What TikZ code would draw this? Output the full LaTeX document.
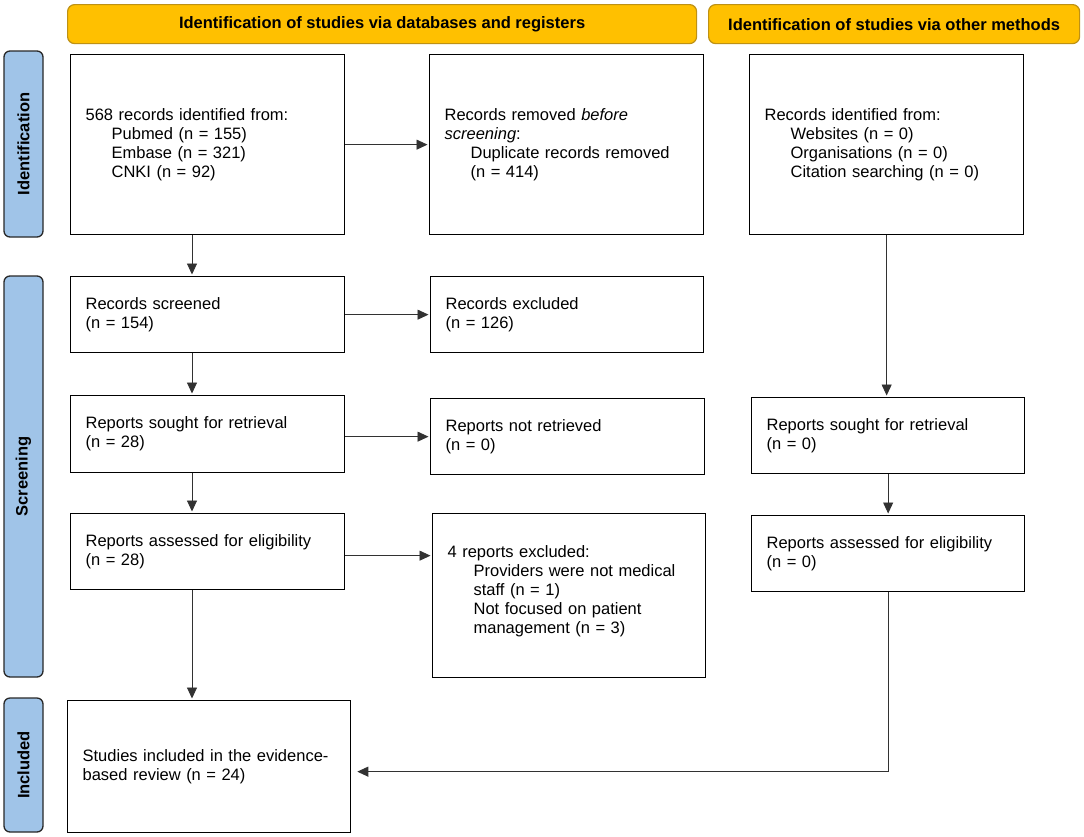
\documentclass[tikz,border=0pt]{standalone}
\usepackage{fontspec}
\setmainfont{Liberation Sans}
\usetikzlibrary{arrows.meta,positioning}
\definecolor{hdrfill}{RGB}{255,192,0}
\definecolor{hdrline}{RGB}{190,145,20}
\definecolor{sidefill}{RGB}{160,196,232}
\definecolor{sideline}{RGB}{40,40,40}
\definecolor{arrline}{RGB}{50,50,50}
\newcommand\mybody{\fontsize{16.5}{19}\selectfont}
\newcommand\myhead{\fontsize{16.5}{19}\selectfont\bfseries}
\newcommand\ind{\hspace*{26pt}}
\begin{document}
\begin{tikzpicture}[x=1pt,y=-1pt,
  box/.style={draw=black, line width=1.3pt, fill=white, rectangle, anchor=north west,
    inner xsep=15pt, inner ysep=0pt, align=left, font=\mybody},
  hdr/.style={draw=hdrline, line width=1.2pt, fill=hdrfill, rounded corners=7pt,
    anchor=north west, inner sep=0pt, align=center, font=\myhead},
  side/.style={draw=sideline, line width=1.3pt, fill=sidefill, rounded corners=6pt,
    inner sep=0pt, font=\myhead, rotate=90},
  arr/.style={draw=arrline, line width=0.9pt, -{Triangle[length=11pt,width=10pt]}, shorten >=1.5pt},
  ln/.style={draw=arrline, line width=0.9pt}]
\useasboundingbox (0,0) rectangle (1084,836);
\fill[white] (0,0) rectangle (1084,836);

% headers
\node[hdr, minimum width=629pt, minimum height=39pt] (H1) at (67,4) {Identification of studies via databases and registers};
\node[hdr, minimum width=371pt, minimum height=39pt] (H2) at (708,4) {Identification of studies via other methods};

% side labels
\node[side, minimum width=186pt, minimum height=39pt] (S1) at (23.5,144) {Identification};
\node[side, minimum width=401pt, minimum height=39pt] (S2) at (23.5,476.5) {Screening};
\node[side, minimum width=134pt, minimum height=39pt] (S3) at (23.5,765) {Included};

% left column
\node[box, text width=244pt, minimum height=180pt] (A) at (70,54)
  {568 records identified from:\\ \ind Pubmed (n = 155)\\ \ind Embase (n = 321)\\ \ind CNKI (n = 92)};
\node[box, text width=244pt, minimum height=76pt] (Scr) at (70,276)
  {Records screened\\(n = 154)};
\node[box, text width=244pt, minimum height=77pt] (Sou) at (70,395)
  {Reports sought for retrieval\\(n = 28)};
\node[box, text width=244pt, minimum height=76pt] (Ass) at (70,513)
  {Reports assessed for eligibility\\(n = 28)};
\node[box, text width=253pt, minimum height=132pt] (Inc) at (67,700)
  {Studies included in the evidence-\\based review (n = 24)};

% middle column
\node[box, text width=244pt, minimum height=180pt] (B) at (429,54)
  {Records removed \textit{before}\\\textit{screening}:\\ \ind Duplicate records removed\\ \ind (n = 414)};
\node[box, text width=243pt, minimum height=76pt] (Exc) at (430,276)
  {Records excluded\\(n = 126)};
\node[box, text width=244pt, minimum height=76pt] (NRe) at (430,398)
  {Reports not retrieved\\(n = 0)};
\node[box, text width=243pt, minimum height=164pt] (Ex4) at (432,513)
  {4 reports excluded:\\ \ind Providers were not medical\\ \ind staff (n = 1)\\ \ind Not focused on patient\\ \ind management (n = 3)\\[-7pt]\mbox{}};

% right column
\node[box, text width=244pt, minimum height=180pt] (C) at (749,54)
  {Records identified from:\\ \ind Websites (n = 0)\\ \ind Organisations (n = 0)\\ \ind Citation searching (n = 0)};
\node[box, text width=243pt, minimum height=76pt] (SouO) at (751,397)
  {Reports sought for retrieval\\(n = 0)};
\node[box, text width=243pt, minimum height=76pt] (AssO) at (751,515)
  {Reports assessed for eligibility\\(n = 0)};

% connectors
\coordinate (colL) at (192,0);
\draw[arr] (A.south -| colL) -- (Scr.north -| colL);
\draw[arr] (Scr.south -| colL) -- (Sou.north -| colL);
\draw[arr] (Sou.south -| colL) -- (Ass.north -| colL);
\draw[arr] (Ass.south -| colL) -- (Inc.north -| colL);

\draw[arr] (A.east) -- (B.west);
\draw[arr] (Scr.east) -- (Exc.west);
\draw[arr] (Sou.east |- NRe.west) -- (NRe.west);
\draw[arr] ([yshift=-4pt]Ass.east) -- ([yshift=-4pt]Ass.east -| Ex4.west);

\draw[arr] (C.south) -- (C.south |- SouO.north);
\draw[arr] (SouO.south) -- (SouO.south |- AssO.north);
\draw[arr, shorten >=6pt] (AssO.south) |- ([yshift=-5pt]Inc.east);
\end{tikzpicture}
\end{document}
